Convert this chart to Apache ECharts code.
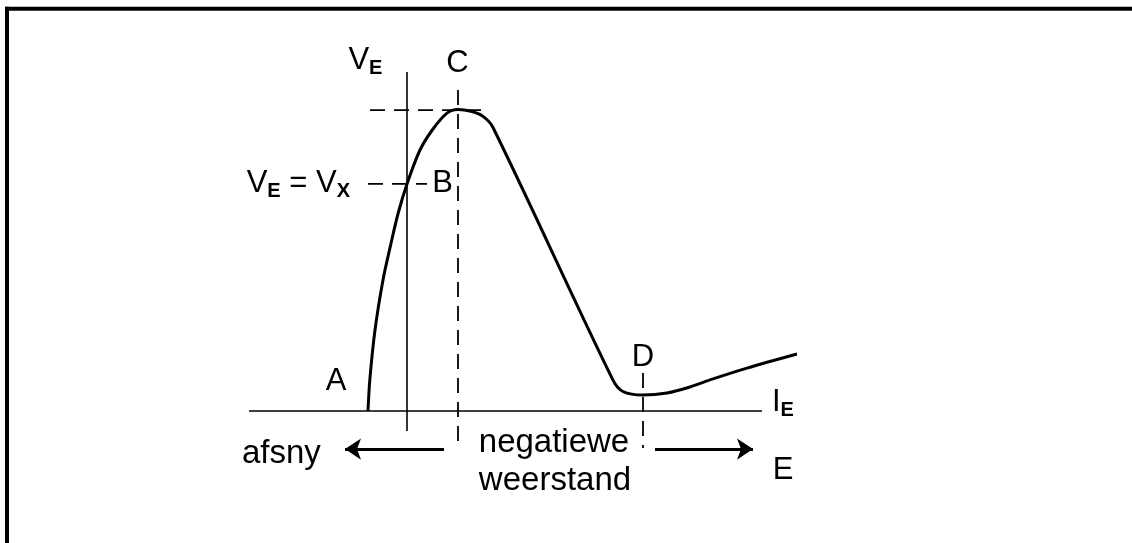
<!DOCTYPE html>
<html>
<head>
<meta charset="utf-8">
<script src="https://cdn.jsdelivr.net/npm/echarts@6/dist/echarts.min.js"></script>
<style>
html,body{margin:0;padding:0;background:#fff;}
#chart{width:1132px;height:543px;}
</style>
</head>
<body>
<div id="chart"></div>
<script>
// Characteristic curve V_E versus I_E (arbitrary units)
const curvePoints = [
  [-0.975, 0.0], [-0.93, 1.03], [-0.8, 2.7], [-0.6, 4.37], [-0.42, 5.47],
  [-0.22, 6.6], [0.0, 7.57], [0.325, 8.7], [0.65, 9.4], [1.0, 9.93],
  [1.275, 10.05], [1.6, 9.99], [1.9, 9.82], [2.15, 9.45],
  [5.15, 1.03], [5.4, 0.65], [5.9, 0.53], [6.5, 0.6], [7.075, 0.8],
  [7.65, 1.07], [8.5, 1.43], [9.75, 1.9]
];
const axisIE = [[-3.95, 0], [8.875, 0]];
const axisVE = [[0, 11.3], [0, -0.67]];
const dashPeak = [[-0.925, 10.03], [2.0, 10.03]];
const dashB = [[-0.975, 7.57], [0.5, 7.57]];
const dashC = [[1.275, 10.7], [1.275, -1.0]];
const dashD = [[5.9, 1.27], [5.9, -1.23]];
const arrowLeft = [[0.925, -1.27], [-1.55, -1.27]];
const arrowRight = [[6.2, -1.27], [8.65, -1.27]];
const labels = [
  { pos: [-1.04, 11.67], text: '{m|V}{s|E}', align: 'center' },
  { pos: [1.26, 11.58], text: '{m|C}', align: 'center' },
  { pos: [-1.425, 7.57], text: '{m|V}{s|E}{m| = V}{s|X}', align: 'right' },
  { pos: [0.89, 7.57], text: '{m|B}', align: 'center' },
  { pos: [-1.775, 1.0], text: '{m|A}', align: 'center' },
  { pos: [5.9, 1.8], text: '{m|D}', align: 'center' },
  { pos: [9.125, 0.28], text: '{m|I}{s|E}', align: 'left' },
  { pos: [-4.125, -1.43], text: '{w|afsny}', align: 'left' },
  { pos: [3.675, -1.05], text: '{w|negatiewe}', align: 'center' },
  { pos: [3.7, -2.33], text: '{w|weerstand}', align: 'center' },
  { pos: [9.4, -1.97], text: '{m|E}', align: 'center' }
];

const FONT = '"Liberation Sans", Arial, sans-serif';
const chart = echarts.init(document.getElementById('chart'), null, { renderer: 'canvas' });

function seg(data, width, dashed) {
  return {
    type: 'line', data: data, symbol: 'none', silent: true, animation: false,
    lineStyle: { color: '#000', width: width, type: dashed ? [15, 9] : 'solid' },
    z: 2
  };
}

chart.setOption({
  backgroundColor: '#fff',
  animation: false,
  grid: { left: 207, top: 21, width: 640, height: 510 },
  xAxis: { type: 'value', min: -5, max: 11, show: false },
  yAxis: { type: 'value', min: -4, max: 13, show: false },
  graphic: [
    { type: 'line', shape: { x1: 5, y1: 8.7, x2: 1132, y2: 8.7 }, style: { stroke: '#000', lineWidth: 4 } },
    { type: 'line', shape: { x1: 7, y1: 6.7, x2: 7, y2: 543 }, style: { stroke: '#000', lineWidth: 4 } }
  ],
  series: [
    seg(axisIE, 1.6, false),
    seg(axisVE, 1.6, false),
    seg(dashPeak, 1.8, true),
    seg(dashB, 1.8, true),
    seg(dashC, 1.8, true),
    seg(dashD, 1.8, true),
    {
      type: 'line', data: curvePoints, symbol: 'none', smooth: 0.3,
      lineStyle: { color: '#000', width: 3 }, z: 3
    },
    {
      type: 'lines', coordinateSystem: 'cartesian2d', silent: true,
      symbol: ['none', 'arrow'], symbolSize: 16,
      lineStyle: { color: '#000', width: 3, opacity: 1, curveness: 0 },
      itemStyle: { color: '#000' },
      data: [{ coords: arrowLeft }, { coords: arrowRight }],
      z: 3
    },
    {
      type: 'scatter', symbolSize: 0, silent: true, z: 4,
      itemStyle: { color: '#000', opacity: 1 },
      data: labels.map(l => ({
        value: l.pos,
        label: {
          show: true, position: 'inside', formatter: l.text, align: l.align,
          color: '#000', opacity: 1, textBorderWidth: 0,
          rich: {
            m: { fontSize: 31, lineHeight: 36, fontFamily: FONT, color: '#000', verticalAlign: 'middle' },
            w: { fontSize: 33, lineHeight: 36, fontFamily: FONT, color: '#000', verticalAlign: 'middle' },
            s: { fontSize: 20, lineHeight: 19, fontFamily: FONT, fontWeight: 'bold', color: '#000', verticalAlign: 'bottom' }
          }
        }
      }))
    }
  ]
});
</script>
</body>
</html>
